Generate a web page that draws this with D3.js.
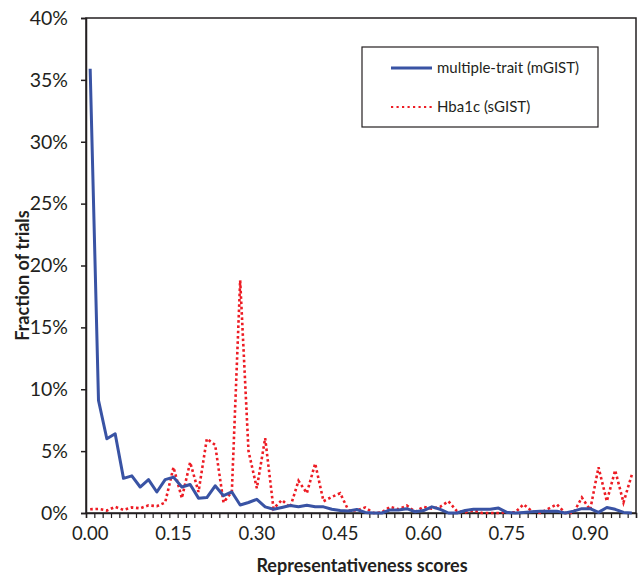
<!DOCTYPE html>
<html>
<head>
<meta charset="utf-8">
<script src="https://cdn.jsdelivr.net/npm/d3@7"></script>
<style>
  html, body { margin: 0; padding: 0; background: #fff; }
  svg { display: block; }
  text { font-family: Lato, "Open Sans", sans-serif; fill: #231f20; }
</style>
</head>
<body>
<svg id="chart" width="640" height="576"></svg>
<script>
// Representativeness score categories (step 0.015)
const categories = [0.000, 0.015, 0.030, 0.045, 0.060, 0.075, 0.090, 0.105, 0.120, 0.135,
  0.150, 0.165, 0.180, 0.195, 0.210, 0.225, 0.240, 0.255, 0.270, 0.285,
  0.300, 0.315, 0.330, 0.345, 0.360, 0.375, 0.390, 0.405, 0.420, 0.435,
  0.450, 0.465, 0.480, 0.495, 0.510, 0.525, 0.540, 0.555, 0.570, 0.585,
  0.600, 0.615, 0.630, 0.645, 0.660, 0.675, 0.690, 0.705, 0.720, 0.735,
  0.750, 0.765, 0.780, 0.795, 0.810, 0.825, 0.840, 0.855, 0.870, 0.885,
  0.900, 0.915, 0.930, 0.945, 0.960, 0.975];

// Fraction of trials (%) — multiple-trait (mGIST)
const mgist = [35.9, 9.1, 6.0, 6.4, 2.8, 3.0, 2.1, 2.7, 1.7, 2.7,
  2.9, 2.1, 2.3, 1.2, 1.25, 2.2, 1.4, 1.7, 0.65, 0.85,
  1.1, 0.5, 0.3, 0.45, 0.6, 0.5, 0.62, 0.5, 0.5, 0.3,
  0.2, 0.16, 0.28, 0.05, 0.0, 0.0, 0.25, 0.25, 0.35, 0.1,
  0.2, 0.5, 0.3, 0.0, 0.0, 0.2, 0.3, 0.3, 0.3, 0.4,
  0.05, 0.0, 0.05, 0.1, 0.15, 0.15, 0.15, 0.0, 0.15, 0.35,
  0.35, 0.05, 0.45, 0.3, 0.05, 0.0];

// Fraction of trials (%) — Hba1c (sGIST)
const sgist = [0.3, 0.33, 0.2, 0.5, 0.25, 0.45, 0.38, 0.62, 0.55, 0.85,
  3.7, 1.2, 4.1, 1.7, 6.0, 5.5, 0.85, 1.7, 18.8, 5.0,
  2.0, 6.05, 0.35, 1.05, 0.45, 2.6, 1.6, 4.0, 0.95, 1.3,
  1.6, 0.2, 0.2, 0.45, 0.0, 0.05, 0.5, 0.3, 0.6, 0.1,
  0.5, 0.35, 0.5, 0.95, 0.15, 0.05, 0.2, 0.0, 0.0, 0.0,
  0.05, 0.05, 0.7, 0.15, 0.0, 0.35, 0.7, 0.0, 0.0, 1.25,
  0.25, 3.7, 0.95, 3.45, 0.85, 3.1];

const yTicks = [0, 5, 10, 15, 20, 25, 30, 35, 40];
const xLabelEvery = 10;

const seriesNames = ["multiple-trait (mGIST)", "Hba1c (sGIST)"];
const seriesColors = ["#3953a4", "#ed1c24"];

const svg = d3.select("#chart");
const pLeft = 86, pRight = 636, pTop = 18, pBottom = 513;

const x = d3.scaleBand().domain(d3.range(categories.length)).range([pLeft, pRight]).paddingInner(0).paddingOuter(0);
const xb = d3.scaleLinear().domain([0, categories.length]).range([pLeft, pRight]);
const y = d3.scaleLinear().domain([0, 40]).range([pBottom, pTop]);
const cx = i => x(i) + x.bandwidth() / 2;

const axisColor = "#231f20";

// Plot frame
svg.append("rect")
  .attr("x", pLeft).attr("y", pTop)
  .attr("width", pRight - pLeft).attr("height", pBottom - pTop)
  .attr("fill", "none").attr("stroke", axisColor).attr("stroke-width", 1.5);

// Y axis
const yAxis = svg.append("g").attr("transform", `translate(${pLeft},0)`)
  .call(d3.axisLeft(y).tickValues(yTicks).tickSize(5).tickPadding(13).tickFormat(d => d + "%"));
yAxis.select(".domain").attr("stroke", axisColor).attr("stroke-width", 1.5);
yAxis.selectAll(".tick line").attr("stroke", axisColor).attr("stroke-width", 1.5);
yAxis.selectAll(".tick text").style("font-size", "19.5px").style("font-family", "Lato, sans-serif").attr("fill", axisColor);

// X axis tick marks (category boundaries)
const xTickAxis = svg.append("g").attr("transform", `translate(0,${pBottom})`)
  .call(d3.axisBottom(xb).tickValues(d3.range(categories.length + 1)).tickSize(5).tickFormat(""));
xTickAxis.select(".domain").attr("stroke", axisColor).attr("stroke-width", 1.5);
xTickAxis.selectAll(".tick line").attr("stroke", axisColor).attr("stroke-width", 1.2);

// X axis labels
const xAxis = svg.append("g").attr("transform", `translate(0,${pBottom})`)
  .call(d3.axisBottom(x)
    .tickValues(d3.range(0, categories.length, xLabelEvery))
    .tickSize(0).tickPadding(14)
    .tickFormat(i => d3.format(".2f")(categories[i])));
xAxis.select(".domain").remove();
xAxis.selectAll(".tick text").style("font-size", "18.5px").style("font-family", "Lato, sans-serif").attr("fill", axisColor);

// Axis titles
svg.append("text")
  .attr("x", (pLeft + pRight) / 2 + 1).attr("y", 572)
  .attr("text-anchor", "middle")
  .style("font-size", "18px").style("font-weight", "bold")
  .text("Representativeness scores");

svg.append("text")
  .attr("transform", `translate(29,${(pTop + pBottom) / 2 + 10}) rotate(-90)`)
  .attr("text-anchor", "middle")
  .style("font-size", "18px").style("font-weight", "bold")
  .text("Fraction of trials");

// Lines
const line = d3.line().x((d, i) => cx(i)).y(d => y(d));

svg.append("path").datum(sgist)
  .attr("d", line)
  .attr("fill", "none").attr("stroke", seriesColors[1])
  .attr("stroke-width", 2.6).attr("stroke-dasharray", "2.6,2.7");

svg.append("path").datum(mgist)
  .attr("d", line)
  .attr("fill", "none").attr("stroke", seriesColors[0])
  .attr("stroke-width", 3).attr("stroke-linejoin", "round");

// Legend
const lg = svg.append("g");
lg.append("rect").attr("x", 362).attr("y", 47).attr("width", 236).attr("height", 80)
  .attr("fill", "#fff").attr("stroke", axisColor).attr("stroke-width", 1.2);
const legendYs = [68, 107];
seriesNames.forEach((name, k) => {
  lg.append("line").attr("x1", 391).attr("x2", 432).attr("y1", legendYs[k]).attr("y2", legendYs[k])
    .attr("stroke", seriesColors[k])
    .attr("stroke-width", k === 0 ? 3 : 2.2)
    .attr("stroke-dasharray", k === 0 ? null : "2.2,3.3");
  lg.append("text").attr("x", 437).attr("y", legendYs[k] + 5)
    .style("font-size", "15px").text(name);
});
</script>
</body>
</html>
